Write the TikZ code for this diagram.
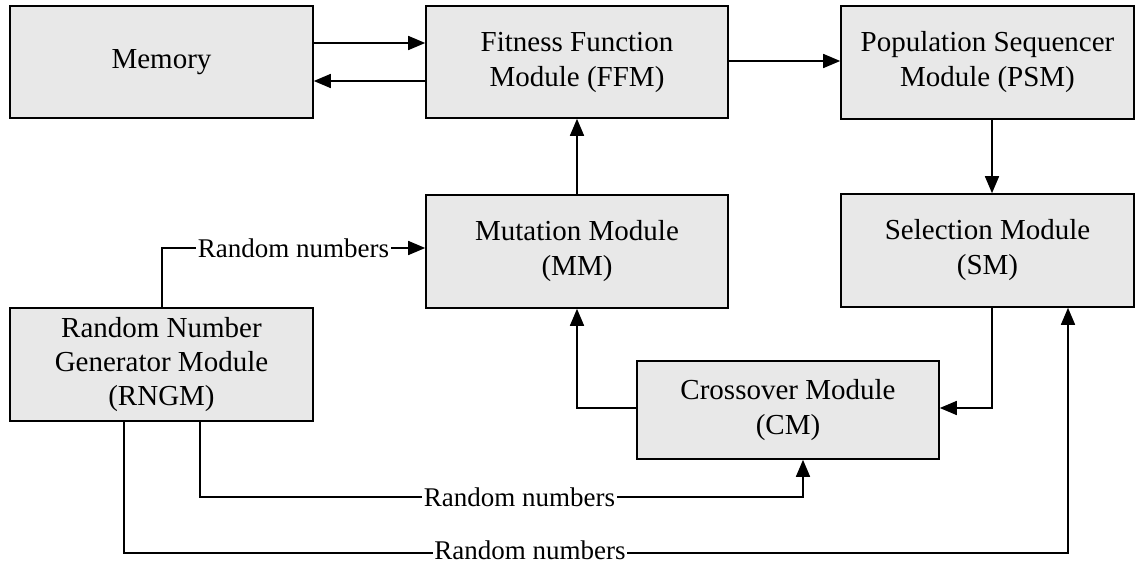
\documentclass[tikz,border=0pt]{standalone}
\usepackage{fontspec}
\setmainfont{Liberation Serif}
\usetikzlibrary{arrows.meta,calc}
\begin{document}
\begin{tikzpicture}[x=1pt,y=-1pt,
  box/.style={draw=black,line width=1.6pt,fill=boxgray,inner sep=0pt,align=center,
    font=\fontsize{29}{35}\selectfont},
  arr/.style={line width=1.6pt,-{Triangle[length=17pt,width=14pt]}},
  conn/.style={line width=1.6pt},
  lbl/.style={fill=white,inner xsep=1.5pt,inner ysep=0pt,font=\fontsize{27}{32}\selectfont}]
\definecolor{boxgray}{HTML}{E8E8E8}
\useasboundingbox (0,0) rectangle (1137,564);
% boxes
\node[box,minimum width=303pt,minimum height=112pt] (mem) at (161.5,62) {Memory};
\node[box,minimum width=302pt,minimum height=112pt] (ffm) at (577,62) {Fitness Function\\Module (FFM)};
\node[box,minimum width=293pt,minimum height=113pt] (psm) at (987.5,62.5) {Population Sequencer\\Module (PSM)};
\node[box,minimum width=302pt,minimum height=113pt] (mm) at (577,251.5) {Mutation Module\\(MM)};
\node[box,minimum width=293pt,minimum height=113pt] (sm) at (987.5,250.5) {Selection Module\\(SM)};
\node[box,minimum width=303pt,minimum height=113pt,font=\fontsize{29}{34}\selectfont] (rngm) at (161.5,364.5) {Random Number\\Generator Module\\(RNGM)};
\node[box,minimum width=302pt,minimum height=98pt] (cm) at (788,410) {Crossover Module\\(CM)};
% helper coordinates
\coordinate (m1) at (0,43);
\coordinate (m2) at (0,81);
\coordinate (f1) at (0,61);
\coordinate (p1) at (992,0);
\coordinate (c1) at (577,408);
\coordinate (s1) at (992,408);
\coordinate (r0) at (162,248);
\coordinate (r1) at (200,497);
\coordinate (r1e) at (803,497);
\coordinate (r2) at (124,553);
\coordinate (r2e) at (1068,553);
% connectors
\draw[arr] (mem.east |- m1) -- (ffm.west |- m1);
\draw[arr] (ffm.west |- m2) -- (mem.east |- m2);
\draw[arr] (ffm.east |- f1) -- (psm.west |- f1);
\draw[arr] (psm.south -| p1) -- (sm.north -| p1);
\draw[arr] (mm.north) -- (ffm.south);
\draw[arr] (cm.west |- c1) -- (c1) -- (mm.south);
\draw[arr] (sm.south -| s1) -- (s1) -- (cm.east |- s1);
\draw[arr] (rngm.north -| r0) -- (r0) -- node[lbl,pos=0.5] {Random numbers} (mm.west |- r0);
\draw[arr] (rngm.south -| r1) -- (r1) -- node[lbl,pos=0.53] {Random numbers} (r1e) -- (cm.south -| r1e);
\draw[arr] (rngm.south -| r2) -- (r2) -- node[lbl,pos=0.43,yshift=3pt] {Random numbers} (r2e) -- (sm.south -| r2e);
\end{tikzpicture}
\end{document}
